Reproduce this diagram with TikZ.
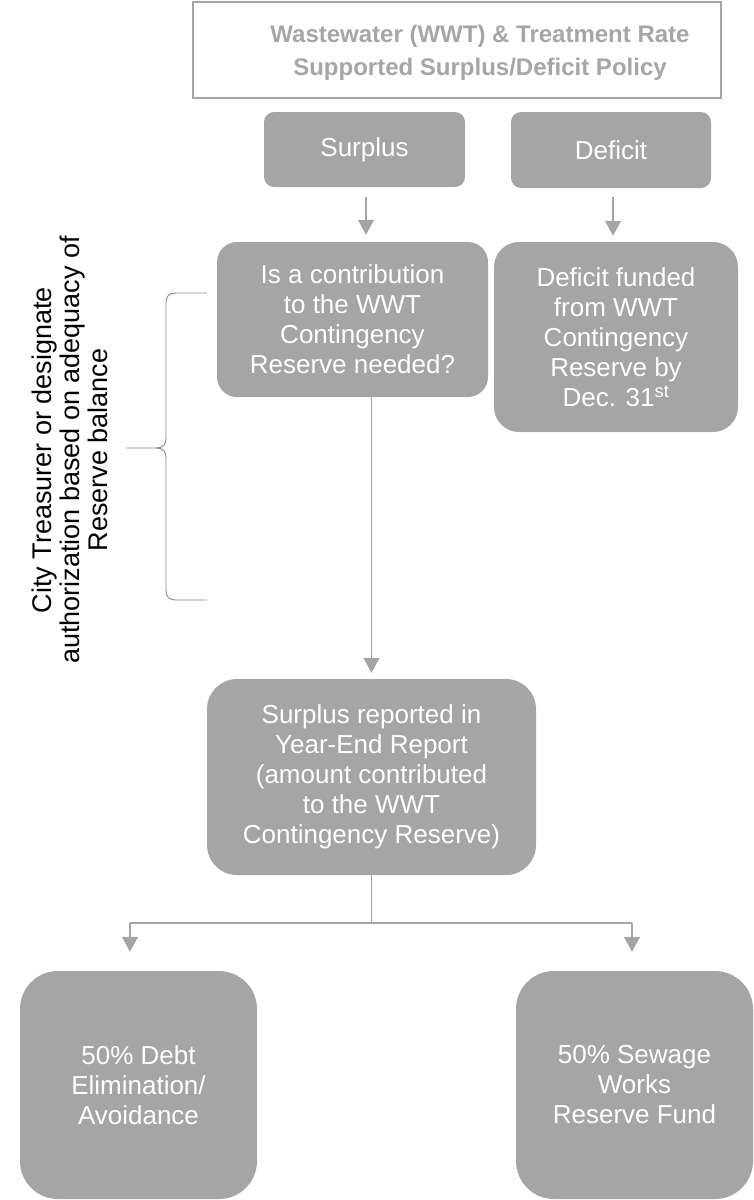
\documentclass[tikz,border=0pt]{standalone}
\usepackage{fontspec}
\setmainfont{Liberation Sans}
\usetikzlibrary{arrows.meta}
\definecolor{boxgray}{HTML}{A5A5A5}
\definecolor{titlegray}{HTML}{A6A6A6}
\definecolor{bracegray}{HTML}{8C8C8C}
\begin{document}
\begin{tikzpicture}[x=1pt,y=-1pt,
  box/.style={fill=boxgray, draw=none, text=white, align=center, inner sep=0pt, font=\fontsize{26}{30}\selectfont},
  conn/.style={draw=boxgray, line width=1.3pt},
  arr/.style={conn, -{Triangle[length=15pt,width=16pt]}},
  bracestyle/.style={draw=bracegray, line width=0.9pt},
]
\useasboundingbox (0,0) rectangle (753,1200);

% title
\node[draw=titlegray, line width=1.5pt, minimum width=528pt, minimum height=96pt, inner sep=0pt] (title) at (457,50) {};
\node[text=titlegray, font=\bfseries\fontsize{24}{33}\selectfont, align=center] (titletext) at (480,53) {Wastewater (WWT) \& Treatment Rate\\Supported Surplus/Deficit Policy};

% boxes
\node[box, rounded corners=10pt, minimum width=201pt, minimum height=75pt] (surplus) at (364.5,149.5) {Surplus};
\node[box, rounded corners=10pt, minimum width=200pt, minimum height=76pt] (deficit) at (611,150) {Deficit};
\node[box, rounded corners=20pt, minimum width=271pt, minimum height=155pt] (question) at (352.5,319.5) {Is a contribution\\to the WWT\\Contingency\\Reserve needed?};
\node[box, rounded corners=25pt, minimum width=244pt, minimum height=190pt] (funded) at (616,337) {Deficit funded\\from WWT\\Contingency\\Reserve by\\Dec. 31\textsuperscript{st}};
\node[box, rounded corners=30pt, minimum width=329pt, minimum height=196pt] (yearend) at (371.5,777) {Surplus reported in\\Year-End Report\\(amount contributed\\to the WWT\\Contingency Reserve)};
\node[box, rounded corners=38pt, minimum width=237pt, minimum height=228pt] (debt) at (138.5,1085) {50\% Debt\\Elimination/\\Avoidance};
\node[box, rounded corners=38pt, minimum width=237pt, minimum height=228pt] (sewage) at (634.5,1085) {50\% Sewage\\Works\\Reserve Fund};

% side note
\node[rotate=90, align=center, font=\fontsize{27}{28}\selectfont] (auth) at (70,450) {City Treasurer or designate\\authorization based on adequacy of\\Reserve balance};

% brace
\draw[bracestyle] (207,293) -- (176,293) .. controls (169,293) and (166,296) .. (166,303) -- (166,438) .. controls (166,445) and (163,448) .. (156,448) -- (126,448);
\draw[bracestyle] (156,448) .. controls (163,448) and (166,451) .. (166,458) -- (166,590) .. controls (166,597) and (169,600) .. (176,600) -- (207,600);

% connectors
\draw[arr, shorten <=10pt, shorten >=7pt] ([xshift=1.5pt]surplus.south) -- ([xshift=1.5pt]surplus.south |- question.north);
\draw[arr, shorten <=9pt, shorten >=6pt] ([xshift=2pt]deficit.south) -- ([xshift=2pt]deficit.south |- funded.north);
\draw[arr, shorten >=6pt] (question.south -| yearend.north) -- (yearend.north);
\coordinate (j) at (371.5,923);
\coordinate (jl) at (130,923);
\coordinate (jr) at (632,923);
\draw[conn] (yearend.south) -- (j);
\draw[conn] (jl) -- (jr);
\draw[arr, shorten >=19pt] (jl) -- (jl |- debt.north);
\draw[arr, shorten >=19pt] (jr) -- (jr |- sewage.north);
\end{tikzpicture}
\end{document}
